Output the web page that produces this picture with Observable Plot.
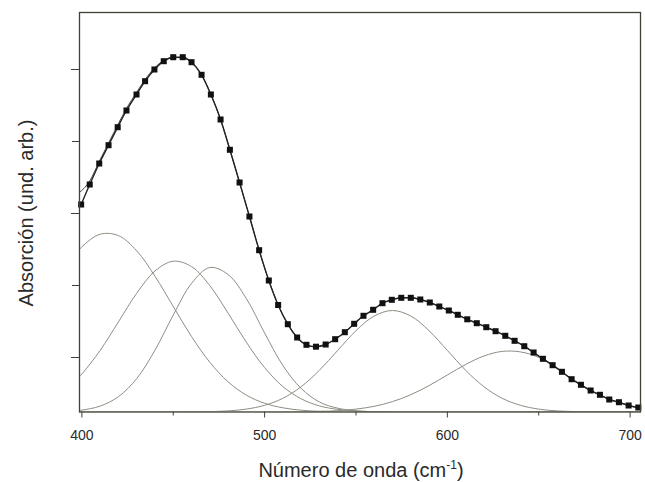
<!DOCTYPE html>
<html>
<head>
<meta charset="utf-8">
<script src="https://cdn.jsdelivr.net/npm/d3@7"></script>
<script src="https://cdn.jsdelivr.net/npm/@observablehq/plot@0.6"></script>
<style>
  html, body { margin: 0; padding: 0; background: #ffffff; }
  #chart { width: 645px; height: 482px; }
</style>
</head>
<body>
<div id="chart"></div>
<script>
// ---- Data (x: wavenumber cm^-1, y: absorbance, arbitrary units) ----
const sqX = [399.6,404.3,409.5,414.6,419.6,424.4,429.9,434.6,439.7,444.8,450.0,455.2,460.0,465.5,470.6,475.9,481.0,486.3,491.7,497.0,502.3,507.4,512.7,517.8,522.9,528.1,533.4,538.6,543.9,549.0,554.1,559.4,564.5,569.6,574.8,580.0,585.2,590.4,595.6,600.8,605.7,610.9,616.1,621.3,626.4,631.7,636.8,642.1,647.2,652.3,657.6,662.7,668.0,673.1,678.4,683.5,688.6,693.9,699.2,704.5];
const sqY = [207.5,227.5,248.5,266.8,284.8,301.5,317.5,330.8,342.5,350.8,354.8,354.8,349.8,337.2,317.5,292.5,262.2,229.5,195.5,161.8,131.5,107.0,87.8,74.5,67.2,65.3,67.5,72.8,79.8,88.2,96.2,102.2,108.8,112.2,114.2,114.2,112.5,109.5,105.5,101.5,97.2,92.7,88.8,84.8,80.8,76.2,71.2,65.8,59.5,53.2,46.8,40.2,32.8,27.2,21.5,17.2,12.5,9.8,6.5,4.5];

// fitted envelope, where it departs from the data (low wavenumber side)
const fitHeadX = [398.7,404.3,409.5,414.6,419.6,424.4,429.9,434.6,439.7,444.8,450.0,455.2];
const fitHeadY = [219.5,231.0,250.5,269.0,287.0,303.5,319.5,332.5,344.0,351.5,354.5,354.0];

// Gaussian components, sampled
const compX = [395,400,410,420,430,440,450,460,470,480,490,500,510,520,530,540,550,560,570,580,590,600,610,620,630,640,650,660,670,680,690,700,705];
const comp1 = [154.5,165.2,177.8,176.4,161.2,135.8,105.5,75.5,49.8,30.2,16.9,8.7,4.2,1.8,0.7,0.3,0.1,0,0,0,0,0,0,0,0,0,0,0,0,0,0,0,0];
const comp2 = [28.7,38.0,61.6,90.1,118.7,141.0,150.8,145.4,126.4,98.9,69.8,44.4,25.4,13.2,6.1,2.6,1.0,0.3,0.1,0,0,0,0,0,0,0,0,0,0,0,0,0,0];
const comp3 = [1.0,1.9,5.9,15.3,33.4,61.8,96.9,128.6,144.5,137.5,113.5,79.0,46.5,23.5,10.0,3.8,1.2,0.3,0,0,0,0,0,0,0,0,0,0,0,0,0,0,0];
const comp4 = [0,0,0,0,0,0,0,0.1,0.4,1.1,2.9,6.7,13.7,25.3,41.7,61.6,81.3,96.0,101.5,96.0,81.3,61.6,41.7,25.3,13.7,6.7,2.9,1.1,0.4,0.1,0,0,0];
const comp5 = [0,0,0,0,0,0,0,0,0,0,0,0,0.1,0.2,0.6,1.3,2.9,5.7,10.4,17.3,26.4,37.0,47.5,56.0,60.6,60.1,54.6,43.5,31.0,20.0,11.5,6.0,4.2];

const xMajor = [400, 500, 600, 700];
const xMinor = [450, 550, 650];
const yMajor = [54.5, 198.5, 342.5];
const yMinor = [126.5, 270.5];

// ---- tables built from the arrays ----
const squares = sqX.map((x, i) => ({x, y: sqY[i]}));
const fit = fitHeadX.map((x, i) => ({x, y: fitHeadY[i]}))
  .concat(squares.filter(d => d.x > 457));
const comps = [comp1, comp2, comp3, comp4, comp5];
const compData = [];
comps.forEach((c, k) => compX.forEach((x, i) => compData.push({x, y: c[i], comp: "G" + (k + 1)})));

const frameColor = "#3e4234";
const compColor = "#8d8d84";
const textColor = "#2a2a2a";

const chart = Plot.plot({
  width: 645,
  height: 482,
  marginLeft: 79,
  marginRight: 5,
  marginTop: 12,
  marginBottom: 70.5,
  style: {fontFamily: "'Liberation Sans', Arial, sans-serif", background: "#ffffff", color: textColor},
  x: {domain: [398.7, 705.7]},
  y: {domain: [0, 399.5]},
  marks: [
    Plot.axisX({ticks: xMajor, tickSize: 6, tickPadding: 12, fontSize: 14, tickFormat: d => String(d), label: null, stroke: frameColor}),
    Plot.axisX({ticks: xMinor, tickSize: 4, tickFormat: () => "", label: null, stroke: frameColor}),
    Plot.axisY({ticks: yMajor, tickSize: 8, tickFormat: () => "", label: null, stroke: frameColor}),
    Plot.axisY({ticks: yMinor, tickSize: 7, tickFormat: () => "", label: null, stroke: frameColor}),
    Plot.line(compData, {x: "x", y: "y", z: "comp", stroke: compColor, strokeWidth: 1, curve: "catmull-rom", clip: true}),
    Plot.line(fit, {x: "x", y: "y", stroke: "#4a4a44", strokeWidth: 1, curve: "monotone-x", clip: true}),
    Plot.line(squares, {x: "x", y: "y", stroke: "#222222", strokeWidth: 1.4, curve: "monotone-x", clip: true}),
    Plot.dot(squares, {x: "x", y: "y", symbol: "square", r: 3.4, fill: "#111111", stroke: "none"}),
    Plot.frame({stroke: frameColor, strokeWidth: 1.3})
  ]
});

const svg = d3.select(chart);
svg.append("text")
  .attr("transform", "translate(26,213) rotate(-90)")
  .attr("text-anchor", "middle")
  .attr("dominant-baseline", "central")
  .attr("font-size", 20)
  .attr("fill", textColor)
  .text("Absorción (und. arb.)");

const xt = svg.append("text")
  .attr("x", 361)
  .attr("y", 477)
  .attr("text-anchor", "middle")
  .attr("font-size", 20)
  .attr("fill", textColor);
xt.append("tspan").text("Número de onda (cm");
xt.append("tspan").attr("dy", -8).attr("font-size", 12).text("-1");
xt.append("tspan").attr("dy", 8).text(")");

document.getElementById("chart").appendChild(chart);
</script>
</body>
</html>
